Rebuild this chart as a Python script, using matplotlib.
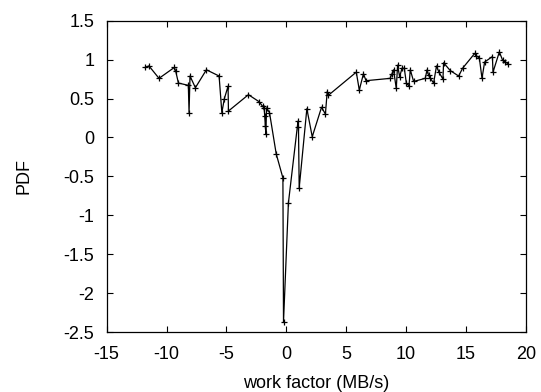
import matplotlib
matplotlib.use("Agg")
import matplotlib.pyplot as plt

plt.rcParams['font.family'] = ['Liberation Sans', 'DejaVu Sans']

# work factor (MB/s) vs PDF
work_factor = [-11.8, -11.47, -10.63, -9.35, -9.23, -9.01, -8.18, -8.12, -8.04, -7.59,
               -6.67, -5.61, -5.38, -5.17, -4.86, -4.83, -3.16, -2.27, -1.97, -1.85,
               -1.80, -1.75, -1.70, -1.65, -1.40, -0.84, -0.28, -0.23, 0.18, 0.98,
               1.02, 1.08, 1.72, 2.17, 2.95, 3.27, 3.42, 3.50, 5.85, 6.10,
               6.45, 6.66, 8.68, 8.83, 8.96, 9.19, 9.30, 9.47, 9.67, 9.86,
               10.03, 10.25, 10.36, 10.64, 11.61, 11.76, 11.89, 12.03, 12.31, 12.55,
               12.75, 13.09, 13.14, 13.70, 14.40, 14.73, 15.74, 15.88, 16.13, 16.35,
               16.57, 17.22, 17.27, 17.80, 18.08, 18.30, 18.50]
pdf = [0.90, 0.92, 0.76, 0.90, 0.85, 0.70, 0.67, 0.32, 0.79, 0.64,
       0.87, 0.79, 0.32, 0.50, 0.66, 0.34, 0.55, 0.46, 0.40, 0.38,
       0.28, 0.15, 0.05, 0.38, 0.32, -0.21, -0.52, -2.37, -0.84, 0.21,
       0.14, -0.65, 0.37, 0.01, 0.39, 0.30, 0.59, 0.54, 0.84, 0.61,
       0.82, 0.73, 0.76, 0.82, 0.87, 0.63, 0.93, 0.78, 0.89, 0.89,
       0.70, 0.66, 0.87, 0.72, 0.76, 0.87, 0.80, 0.76, 0.70, 0.92,
       0.84, 0.75, 0.96, 0.86, 0.79, 0.89, 1.08, 1.05, 1.02, 0.76,
       0.97, 1.04, 0.84, 1.10, 0.99, 0.97, 0.95]

xticks = [-15, -10, -5, 0, 5, 10, 15, 20]
yticks = [-2.5, -2, -1.5, -1, -0.5, 0, 0.5, 1, 1.5]

fig = plt.figure(figsize=(5.41, 3.92), dpi=100)
ax = fig.add_axes([0.1972, 0.153, 0.7745, 0.794])

ax.plot(work_factor, pdf, color='black', linewidth=0.9,
        marker='+', markersize=5, markeredgewidth=0.9)

ax.set_xlim(-15, 20)
ax.set_ylim(-2.5, 1.5)
ax.set_xticks(xticks)
ax.set_xticklabels([str(t) for t in xticks])
ax.set_yticks(yticks)
ax.set_yticklabels([('%g' % t) for t in yticks])
ax.tick_params(direction='in', top=True, right=True, length=4, width=0.8,
               labelsize=13)
ax.tick_params(axis='y', pad=9)
ax.tick_params(axis='x', pad=10)
for s in ax.spines.values():
    s.set_linewidth(0.9)

ax.set_xlabel('work factor (MB/s)', fontsize=13, labelpad=9)
ax.set_ylabel('PDF', fontsize=13, labelpad=22)

fig.savefig('out.png', dpi=100)
